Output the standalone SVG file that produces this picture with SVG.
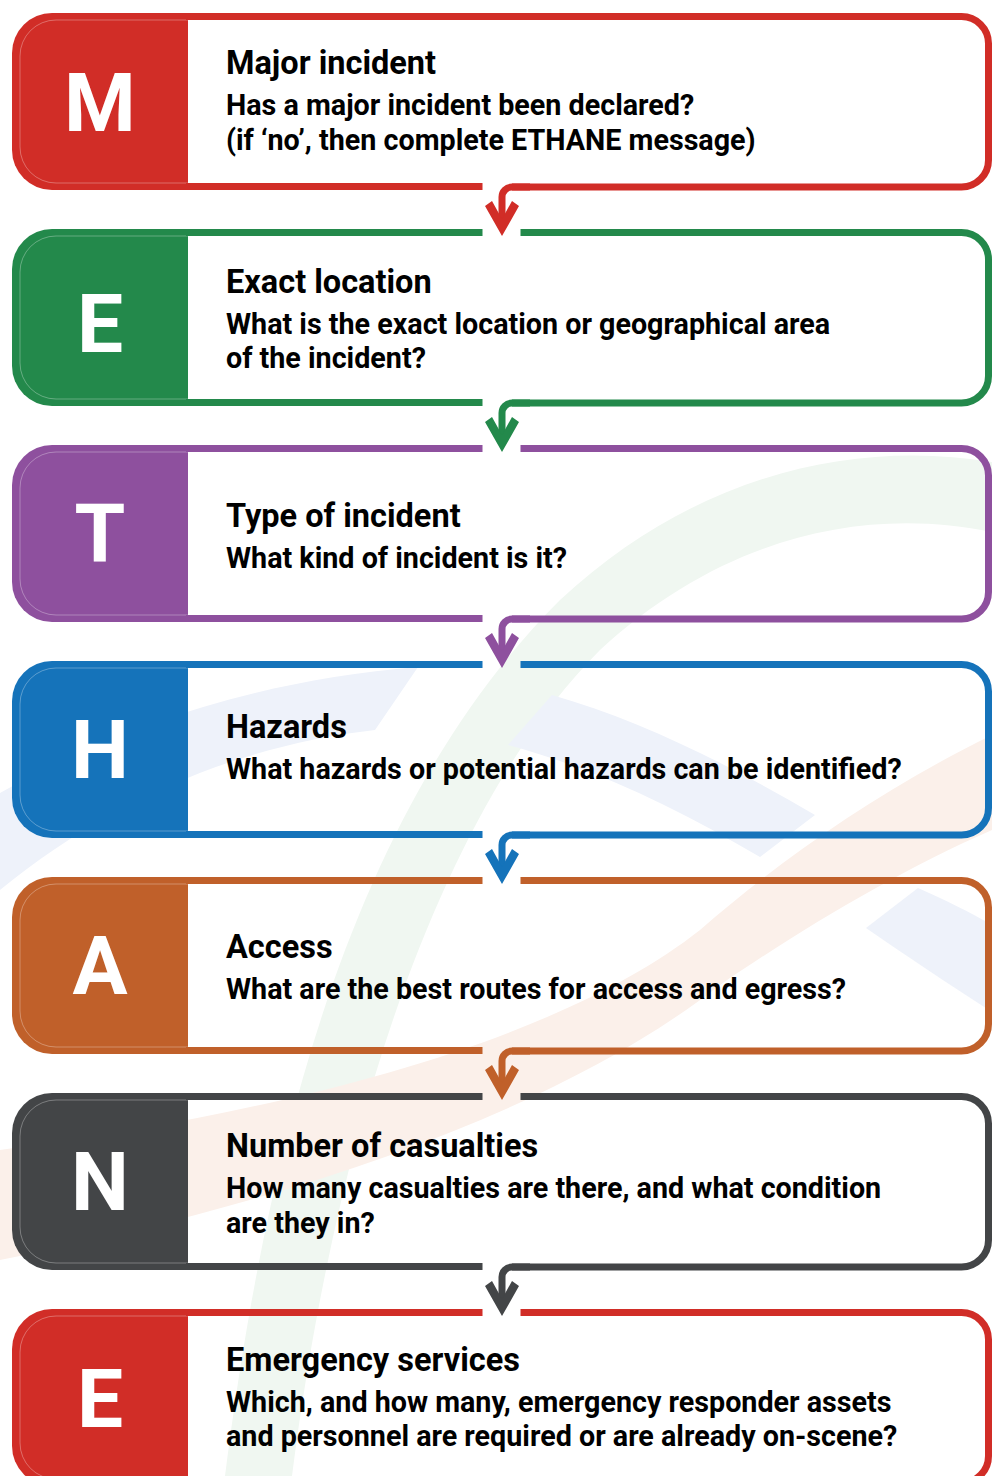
<svg xmlns="http://www.w3.org/2000/svg" width="992" height="1476" viewBox="0 0 992 1476">
<style>
.ttl{font-family:Roboto,"Liberation Sans",sans-serif;font-weight:700;font-size:32.5px;fill:#000}
.bdy{font-family:Roboto,"Liberation Sans",sans-serif;font-weight:700;font-size:28.7px;fill:#000}
.ltr{font-family:Roboto,"Liberation Sans",sans-serif;font-weight:700;font-size:82px;fill:#fff;text-anchor:middle}
.ol{fill:none;stroke-width:7;stroke-linejoin:round}
.hl{fill:none;stroke:#fff;stroke-opacity:0.3;stroke-width:1}
</style>
<defs>
<path id="blk" d="M188,13 H52 A40,40 0 0 0 12,53 V150 A40,40 0 0 0 52,190 H188 Z"/>
<path id="hlp" d="M188,20 H56 A36,36 0 0 0 20,56 V147 A36,36 0 0 0 56,183 H188"/>
<path id="ahead" d="M485,206 L492,201 L502,219 L512,201 L519,206 L502,236 Z"/>
</defs>
<rect width="992" height="1476" fill="#fff"/>
<g id="background">
<path d="M225,1476 C270,1120 360,800 560,600 C700,470 860,440 992,462 L992,532 C860,505 720,540 600,650 C450,800 340,1100 292,1476 Z" fill="#f0f7f1"/>
<path d="M0,793 C120,725 260,680 418,667 L375,730 C240,745 110,800 0,890 Z" fill="#eef2fa"/>
<path d="M552,695 C640,720 730,765 815,815 L760,857 C680,810 600,770 508,745 Z" fill="#eef2fa"/>
<path d="M918,888 C945,900 970,912 992,925 L992,1012 C950,985 905,955 866,928 Z" fill="#eef2fa"/>
<path d="M992,735 C880,790 780,860 700,930 C560,1040 300,1110 0,1150 L0,1260 C300,1200 560,1110 720,985 C800,930 900,870 992,830 Z" fill="#fbf0ea"/>
</g>
<g id="node-M" transform="translate(0,0)">
<use href="#blk" fill="#d12d27"/><use href="#hlp" class="hl"/>
<path class="ol" stroke="#d12d27" d="M186,16.5 H961.5 A27,27 0 0 1 988.5,43.5 V160 A27,27 0 0 1 961.5,187 H512"/>
<path class="ol" stroke="#d12d27" d="M186,186.5 H482.5"/>
<text class="ltr" x="100" y="131">M</text>
<text class="ttl" x="226" y="74">Major incident</text>
<text class="bdy" x="226" y="115">Has a major incident been declared?</text>
<text class="bdy" x="226" y="150">(if ‘no’, then complete ETHANE message)</text>
</g>
<g id="node-E1" transform="translate(0,216)">
<use href="#blk" fill="#23894b"/><use href="#hlp" class="hl"/>
<path class="ol" stroke="#23894b" d="M186,16.5 H482.5 M520.5,16.5 H961.5 A27,27 0 0 1 988.5,43.5 V160 A27,27 0 0 1 961.5,187 H512"/>
<path class="ol" stroke="#23894b" d="M186,186.5 H482.5"/>
<text class="ltr" x="100" y="136">E</text>
<text class="ttl" x="226" y="77">Exact location</text>
<text class="bdy" x="226" y="118">What is the exact location or geographical area</text>
<text class="bdy" x="226" y="152">of the incident?</text>
</g>
<g id="node-T" transform="translate(0,432)">
<use href="#blk" fill="#8e509e"/><use href="#hlp" class="hl"/>
<path class="ol" stroke="#8e509e" d="M186,16.5 H482.5 M520.5,16.5 H961.5 A27,27 0 0 1 988.5,43.5 V160 A27,27 0 0 1 961.5,187 H512"/>
<path class="ol" stroke="#8e509e" d="M186,186.5 H482.5"/>
<text class="ltr" x="100" y="130">T</text>
<text class="ttl" x="226" y="95">Type of incident</text>
<text class="bdy" x="226" y="136">What kind of incident is it?</text>
</g>
<g id="node-H" transform="translate(0,648)">
<use href="#blk" fill="#1573ba"/><use href="#hlp" class="hl"/>
<path class="ol" stroke="#1573ba" d="M186,16.5 H482.5 M520.5,16.5 H961.5 A27,27 0 0 1 988.5,43.5 V160 A27,27 0 0 1 961.5,187 H512"/>
<path class="ol" stroke="#1573ba" d="M186,186.5 H482.5"/>
<text class="ltr" x="100" y="130">H</text>
<text class="ttl" x="226" y="90">Hazards</text>
<text class="bdy" x="226" y="131">What hazards or potential hazards can be identified?</text>
</g>
<g id="node-A" transform="translate(0,864)">
<use href="#blk" fill="#c0602a"/><use href="#hlp" class="hl"/>
<path class="ol" stroke="#c0602a" d="M186,16.5 H482.5 M520.5,16.5 H961.5 A27,27 0 0 1 988.5,43.5 V160 A27,27 0 0 1 961.5,187 H512"/>
<path class="ol" stroke="#c0602a" d="M186,186.5 H482.5"/>
<text class="ltr" x="100" y="130">A</text>
<text class="ttl" x="226" y="94">Access</text>
<text class="bdy" x="226" y="135">What are the best routes for access and egress?</text>
</g>
<g id="node-N" transform="translate(0,1080)">
<use href="#blk" fill="#434547"/><use href="#hlp" class="hl"/>
<path class="ol" stroke="#434547" d="M186,16.5 H482.5 M520.5,16.5 H961.5 A27,27 0 0 1 988.5,43.5 V160 A27,27 0 0 1 961.5,187 H512"/>
<path class="ol" stroke="#434547" d="M186,186.5 H482.5"/>
<text class="ltr" x="100" y="130">N</text>
<text class="ttl" x="226" y="77">Number of casualties</text>
<text class="bdy" x="226" y="118">How many casualties are there, and what condition</text>
<text class="bdy" x="226" y="153">are they in?</text>
</g>
<g id="node-E2" transform="translate(0,1296)">
<use href="#blk" fill="#d12d27"/><use href="#hlp" class="hl"/>
<path class="ol" stroke="#d12d27" d="M186,16.5 H482.5 M520.5,16.5 H961.5 A27,27 0 0 1 988.5,43.5 V160 A27,27 0 0 1 961.5,187 H512"/>
<text class="ltr" x="100" y="131">E</text>
<text class="ttl" x="226" y="75">Emergency services</text>
<text class="bdy" x="226" y="116">Which, and how many, emergency responder assets</text>
<text class="bdy" x="226" y="150">and personnel are required or are already on-scene?</text>
</g>
<g id="connectors">
<g transform="translate(0,0)" fill="#d12d27"><path class="ol" stroke="#d12d27" d="M530,187 H512 A10,10 0 0 0 502,197 V222"/><use href="#ahead"/></g>
<g transform="translate(0,216)" fill="#23894b"><path class="ol" stroke="#23894b" d="M530,187 H512 A10,10 0 0 0 502,197 V222"/><use href="#ahead"/></g>
<g transform="translate(0,432)" fill="#8e509e"><path class="ol" stroke="#8e509e" d="M530,187 H512 A10,10 0 0 0 502,197 V222"/><use href="#ahead"/></g>
<g transform="translate(0,648)" fill="#1573ba"><path class="ol" stroke="#1573ba" d="M530,187 H512 A10,10 0 0 0 502,197 V222"/><use href="#ahead"/></g>
<g transform="translate(0,864)" fill="#c0602a"><path class="ol" stroke="#c0602a" d="M530,187 H512 A10,10 0 0 0 502,197 V222"/><use href="#ahead"/></g>
<g transform="translate(0,1080)" fill="#434547"><path class="ol" stroke="#434547" d="M530,187 H512 A10,10 0 0 0 502,197 V222"/><use href="#ahead"/></g>
</g>
</svg>
